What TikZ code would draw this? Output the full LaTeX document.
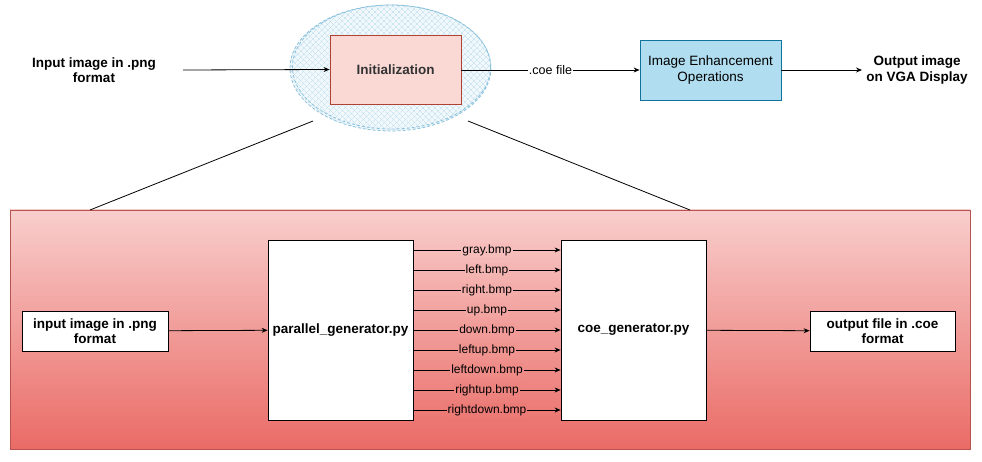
\documentclass[tikz,border=0pt]{standalone}
\usepackage{fontspec}
\setmainfont{Liberation Sans}
\usetikzlibrary{arrows.meta, patterns, patterns.meta, shapes.geometric}
\usetikzlibrary{positioning}
\usepackage{xcolor}
\definecolor{initfill}{HTML}{FAD9D5}
\definecolor{initline}{HTML}{AE4132}
\definecolor{enhfill}{HTML}{B1DDF0}
\definecolor{enhline}{HTML}{10739E}
\definecolor{hatchblue}{HTML}{8DC3DD}
\definecolor{toppink}{HTML}{F8CECC}
\definecolor{botred}{HTML}{EA6B66}
\definecolor{frameline}{HTML}{B85450}
\tikzset{
  txt/.style={font=\fontsize{13.5}{15.5}\selectfont\bfseries, align=center},
  whitebox/.style={draw, fill=white, font=\fontsize{13.5}{15.5}\selectfont\bfseries, align=center, inner sep=0pt},
  lbl/.style={font=\fontsize{12}{13}\selectfont, inner sep=1pt}
}
\begin{document}
\begin{tikzpicture}[x=1pt, y=-1pt, >={Stealth[length=6pt,width=5pt]}, line width=0.8pt]
			\useasboundingbox (0,0) rectangle (982,462);
			% top row
			\fill[hatchblue!12] (390.5,68) ellipse (100.5 and 63);
			\fill[pattern={Lines[angle=45, distance=4pt, line width=0.4pt]}, pattern color=hatchblue!60] (390.5,68) ellipse (100.5 and 63);
			\fill[pattern={Lines[angle=-45, distance=4pt, line width=0.4pt]}, pattern color=hatchblue!60] (390.5,68) ellipse (100.5 and 63);
			\draw[hatchblue, dash pattern=on 3pt off 2pt] (390.5,68) ellipse (100.5 and 63);
			\draw[hatchblue, dash pattern=on 3pt off 2pt] (391.5,67) ellipse (99 and 62);
			\node[txt] (inimg) at (94,70) {Input image in .png\\format};
			\node[draw=initline, fill=initfill, minimum width=131, minimum height=69, txt, text=black!80] (init) at (395.5,69.5) {Initialization};
			\node[draw=enhline, fill=enhfill, minimum width=141, minimum height=60, align=center, font=\fontsize{13.5}{15.5}\selectfont] (enh) at (710.5,70) {Image Enhancement\\Operations};
			\node[txt] (outimg) at (917,70) {Output image\\on VGA Display};
			\draw[->] (183,70) coordinate (inend) -- (init.west);
			\draw[->] (init.east |- enh.west) -- node[fill=white, lbl, font=\fontsize{12.5}{14}\selectfont] (coetxt) {.coe file} (enh.west);
			\draw[->] (enh.east) -- (862,70) coordinate (outend);

			% zoom lines
			\coordinate (zl) at (313,121);
			\coordinate (zr) at (468,121);
			\shade[top color=toppink, bottom color=botred] (10,210) rectangle (970,449);
			\draw[frameline] (10,210) coordinate (fl) rectangle (970,449);
			\coordinate (fa) at (90,210);
			\coordinate (fb) at (690,210);
			\draw (zl) -- (fa);
			\draw (zr) -- (fb);

			% inner flow
			\node[whitebox, minimum width=146, minimum height=40] (pngin) at (95,331) {input image in .png\\format};
			\node[whitebox, minimum width=145, minimum height=180] (pargen) at (340.5,330) {parallel\_generator.py};
			\node[whitebox, minimum width=145, minimum height=180] (coegen) at (633.5,330) {coe\_generator.py};
			\node[whitebox, minimum width=145, minimum height=40] (coeout) at (882.5,331) {output file in .coe\\format};
			\draw[->] (pngin) -- (pargen);
			\draw[->] (coegen) -- (coeout);
			\foreach \f [count=\i, evaluate=\i as \y using 230+20*\i, evaluate=\i as \p using (230+20*\i-210)/2.39] in {gray,left,right,up,down,leftup,leftdown,rightup,rightdown}
				\draw[->] (pargen.east |- 0,\y) -- node[lbl, fill=botred!\p!toppink] {\f.bmp} (coegen.west |- 0,\y);
		\end{tikzpicture}
\end{document}
